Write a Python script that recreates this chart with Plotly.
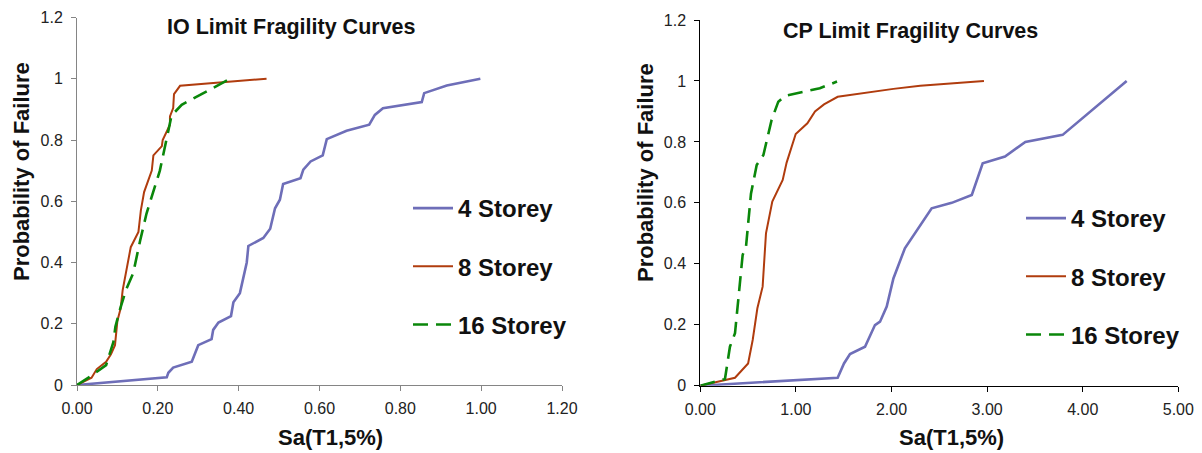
import plotly.graph_objects as go

# ---------------- IO limit (left) ----------------
io_4_x = [0.0, 0.222, 0.226, 0.238, 0.284, 0.300, 0.333, 0.337, 0.350, 0.381, 0.387, 0.403, 0.420, 0.424,
          0.461, 0.478, 0.490, 0.502, 0.510, 0.553, 0.560, 0.578, 0.608, 0.618, 0.667, 0.723, 0.737,
          0.757, 0.853, 0.859, 0.915, 0.998]
io_4_y = [0.0, 0.025, 0.040, 0.057, 0.076, 0.130, 0.150, 0.180, 0.204, 0.225, 0.270, 0.300, 0.400, 0.454,
          0.480, 0.510, 0.577, 0.605, 0.656, 0.675, 0.703, 0.730, 0.750, 0.803, 0.830, 0.850, 0.882,
          0.904, 0.924, 0.953, 0.978, 1.0]
io_8_x = [0.0, 0.036, 0.049, 0.072, 0.084, 0.094, 0.100, 0.108, 0.113, 0.123, 0.133, 0.152, 0.158, 0.166,
          0.185, 0.189, 0.210, 0.212, 0.230, 0.230, 0.238, 0.240, 0.255, 0.469]
io_8_y = [0.0, 0.024, 0.052, 0.076, 0.100, 0.130, 0.210, 0.250, 0.310, 0.376, 0.450, 0.500, 0.570, 0.630,
          0.700, 0.750, 0.780, 0.800, 0.850, 0.877, 0.904, 0.950, 0.977, 1.0]
io_16_x = [0.0, 0.032, 0.072, 0.090, 0.095, 0.106, 0.121, 0.139, 0.156, 0.172, 0.205, 0.212, 0.222, 0.234,
           0.259, 0.337, 0.379]
io_16_y = [0.0, 0.027, 0.065, 0.140, 0.190, 0.245, 0.310, 0.365, 0.470, 0.560, 0.700, 0.745, 0.800, 0.880,
           0.915, 0.970, 1.0]

# ---------------- CP limit (right) ----------------
cp_4_x = [0.0, 1.437, 1.503, 1.566, 1.723, 1.827, 1.880, 1.950, 2.020, 2.140, 2.420, 2.630, 2.840, 2.954,
          3.187, 3.400, 3.790, 4.460]
cp_4_y = [0.0, 0.026, 0.073, 0.104, 0.128, 0.199, 0.210, 0.260, 0.352, 0.451, 0.582, 0.600, 0.626, 0.730,
          0.752, 0.800, 0.823, 1.0]
cp_8_x = [0.0, 0.363, 0.500, 0.548, 0.597, 0.652, 0.687, 0.753, 0.862, 0.903, 0.998, 1.120, 1.200, 1.294,
          1.437, 2.020, 2.300, 2.967]
cp_8_y = [0.0, 0.026, 0.073, 0.150, 0.254, 0.325, 0.500, 0.604, 0.675, 0.732, 0.826, 0.861, 0.900, 0.923,
          0.948, 0.974, 0.984, 1.0]
cp_16_x = [0.0, 0.258, 0.310, 0.363, 0.443, 0.478, 0.530, 0.590, 0.660, 0.746, 0.816, 0.886, 1.250, 1.430]
cp_16_y = [0.0, 0.022, 0.128, 0.172, 0.429, 0.456, 0.630, 0.724, 0.757, 0.872, 0.932, 0.951, 0.976, 0.998]

names = ["4 Storey", "8 Storey", "16 Storey"]
colors = ["#6E6EB8", "#B03C0E", "#0A870A"]
widths = [2.6, 2.0, 2.6]
dashes = ["solid", "solid", "15px,8px"]

W, H = 1202, 453
FONT = "Liberation Sans, Arial, sans-serif"

fig = go.Figure()
left = [(io_4_x, io_4_y), (io_8_x, io_8_y), (io_16_x, io_16_y)]
right = [(cp_4_x, cp_4_y), (cp_8_x, cp_8_y), (cp_16_x, cp_16_y)]
for i, (x, y) in enumerate(left):
    fig.add_trace(go.Scatter(x=x, y=y, mode="lines", name=names[i], xaxis="x", yaxis="y",
                             legend="legend", legendgroup="L%d" % i,
                             line=dict(color=colors[i], width=widths[i], dash=dashes[i])))
for i, (x, y) in enumerate(right):
    fig.add_trace(go.Scatter(x=x, y=y, mode="lines", name=names[i], xaxis="x2", yaxis="y2",
                             legend="legend2", legendgroup="R%d" % i,
                             line=dict(color=colors[i], width=widths[i], dash=dashes[i])))

def px(v):
    return v / W

def py(v):
    return 1 - v / H

tickfont = dict(family=FONT, size=16, color="#222222")
common_x = dict(tickformat=".2f", showgrid=False, zeroline=False, showline=True, ticks="outside",
                ticklen=5, tickfont=tickfont, automargin=False, ticklabelstandoff=4)
common_y = dict(range=[0, 1.2], dtick=0.2, showgrid=False, zeroline=False, showline=True,
                ticks="outside", ticklen=5, tickfont=tickfont, automargin=False, ticklabelstandoff=5)

legend_common = dict(font=dict(family=FONT, size=24, color="#111111", weight="bold"),
                     bgcolor="rgba(0,0,0,0)", tracegroupgap=24, traceorder="grouped",
                     xanchor="left", yanchor="top", itemwidth=40)

fig.update_layout(
    width=W, height=H,
    margin=dict(l=0, r=0, t=0, b=0, autoexpand=False),
    paper_bgcolor="white", plot_bgcolor="white",
    font=dict(family=FONT, color="#111111"),
    xaxis=dict(domain=[px(77), px(562)], range=[0, 1.2], dtick=0.2, anchor="y",
               linecolor="#858585", tickcolor="#858585", **common_x),
    yaxis=dict(domain=[py(385), py(17.5)], anchor="x", linecolor="#858585", tickcolor="#858585",
               **common_y),
    xaxis2=dict(domain=[px(700.3), px(1178.3)], range=[0, 5], dtick=1, anchor="y2",
                linecolor="#000000", tickcolor="#000000", **common_x),
    yaxis2=dict(domain=[py(385.7), py(20)], anchor="x2", linecolor="#000000", tickcolor="#000000",
                **common_y),
    legend=dict(x=px(408), y=py(186), **legend_common),
    legend2=dict(x=px(1021), y=py(196), **legend_common),
)

title_font = dict(family=FONT, size=21.5, color="#111111")
axis_title_font = dict(family=FONT, size=22, color="#111111")
annots = [
    dict(text="<b>IO Limit Fragility Curves</b>", x=px(291), y=py(27), font=title_font),
    dict(text="<b>CP Limit Fragility Curves</b>", x=px(910), y=py(31), font=title_font),
    dict(text="<b>Sa(T1,5%)</b>", x=px(330), y=py(437), font=axis_title_font),
    dict(text="<b>Sa(T1,5%)</b>", x=px(951), y=py(437), font=axis_title_font),
    dict(text="<b>Probability of Failure</b>", x=px(22), y=py(172), font=axis_title_font, textangle=-90),
    dict(text="<b>Probability of Failure</b>", x=px(646), y=py(173), font=axis_title_font, textangle=-90),
]
for a in annots:
    fig.add_annotation(xref="paper", yref="paper", showarrow=False, xanchor="center", yanchor="middle", **a)

fig.write_html("out.html")
